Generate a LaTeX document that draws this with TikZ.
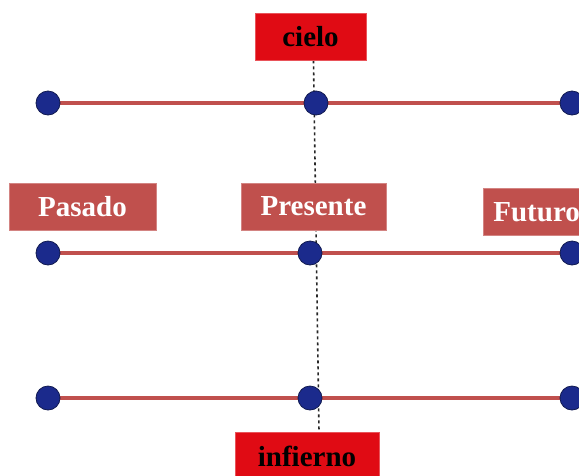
\documentclass[tikz,border=0pt]{standalone}
\usepackage{fontspec}
\usetikzlibrary{backgrounds}
\setmainfont{Liberation Serif}
\definecolor{lred}{HTML}{C0504D}
\definecolor{bred}{HTML}{E00B14}
\definecolor{dblue}{HTML}{1B2A8C}
\definecolor{dbord}{HTML}{111A50}
\begin{document}
\begin{tikzpicture}[x=1pt,y=-1pt,
  tbox/.style={rectangle,fill=lred,draw=lred!70!white,line width=0.8pt,text=white,font=\fontsize{29}{30}\selectfont\bfseries,minimum height=47pt,inner sep=0pt},
  rbox/.style={rectangle,fill=bred,draw=bred!70!white,line width=0.8pt,text=black,font=\fontsize{29}{30}\selectfont\bfseries,minimum height=47pt,inner sep=0pt},
  dot/.style={circle,fill=dblue,draw=dbord,line width=0.8pt,minimum size=24pt,inner sep=0pt},
  tline/.style={draw=lred,line width=4pt},
  vline/.style={draw=black!85,line width=1.6pt,dash pattern=on 3pt off 3pt}]
\useasboundingbox (0,0) rectangle (579,475);
\clip (0,0) rectangle (579,475);
% boxes
\node[rbox,minimum width=111pt] (cielo) at (310.5,36.5) {cielo};
\node[rbox,minimum width=144pt,minimum height=48pt] (infierno) at (307,456) {infierno};
\node[tbox,minimum width=147pt] (pasado) at (82.5,206.5) {Pasado};
\node[tbox,minimum width=145pt] (presente) at (313.5,206.5) {Presente};
\node[tbox,minimum width=145pt,anchor=west,text width=125pt,align=left,inner xsep=10pt] (futuro) at (483,212) {Futuro};
% dots
\node[dot] (a1) at (48,103) {};
\node[dot] (a2) at (316,103) {};
\node[dot] (a3) at (572,103) {};
\node[dot] (b1) at (48,253) {};
\node[dot] (b2) at (310,253) {};
\node[dot] (b3) at (572,253) {};
\node[dot] (c1) at (48,398) {};
\node[dot] (c2) at (310,398) {};
\node[dot] (c3) at (572,398) {};
\begin{scope}[on background layer]
\draw[tline] (a1) -- (a2); \draw[tline] (a2) -- (a3);
\draw[tline] (b1) -- (b2); \draw[tline] (b2) -- (b3);
\draw[tline] (c1) -- (c2); \draw[tline] (c2) -- (c3);
% dashed vertical
\draw[vline] ([xshift=3pt]cielo.south) -- ([xshift=12pt]infierno.north);
\end{scope}
\end{tikzpicture}
\end{document}
